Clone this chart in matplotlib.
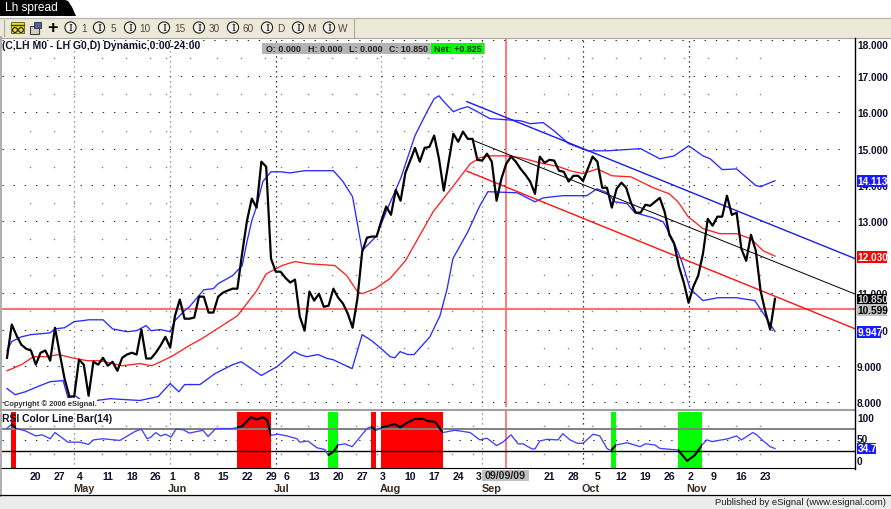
import matplotlib
matplotlib.use('Agg')
import matplotlib.pyplot as plt
from matplotlib.patches import Rectangle, Circle, Polygon
from matplotlib.transforms import blended_transform_factory

plt.rcParams['font.family'] = ['Liberation Sans', 'DejaVu Sans']

W, H = 891, 510

# daily close, one value per bar
close = [9.22, 10.14, 9.83, 9.58, 9.47, 9.42, 9.03, 9.36, 9.42, 9.14, 10.05, 9.33, 8.64, 8.15, 8.15, 9.17,
         9.03, 8.17, 9.11, 9.03, 9.22, 9.00, 9.11, 8.86, 9.22, 9.31, 9.36, 9.31, 10.00, 9.20, 9.20, 9.36,
         9.56, 9.80, 9.50, 10.38, 10.83, 10.30, 10.30, 10.33, 10.91, 10.91, 10.47, 10.47, 10.91, 11.02,
         11.08, 11.13, 11.13, 12.12, 13.01, 13.62, 13.37, 14.64, 14.50, 11.96, 11.60, 11.60, 11.43, 11.30,
         11.38, 10.36, 9.97, 11.05, 10.80, 10.99, 10.63, 10.66, 11.13, 10.88, 10.72, 10.44, 10.05, 10.85,
         12.15, 12.54, 12.57, 12.57, 13.01, 13.40, 13.17, 13.86, 13.56, 14.33, 14.67, 15.02, 14.64, 15.02,
         15.05, 15.36, 14.72, 13.84, 14.63, 15.41, 15.19, 15.47, 15.27, 15.27, 14.69, 14.67, 14.86, 14.64,
         13.56, 14.17, 14.58, 14.78, 14.64, 14.44, 14.28, 14.09, 13.75, 14.78, 14.61, 14.69, 14.67, 14.39,
         14.36, 14.09, 14.25, 14.25, 14.11, 14.44, 14.78, 14.64, 13.92, 13.92, 13.37, 13.89, 14.06, 13.92,
         13.50, 13.23, 13.23, 13.45, 13.42, 13.53, 13.64, 13.26, 12.62, 12.37, 11.74, 11.30, 10.74, 11.19,
         11.49, 12.10, 13.06, 12.87, 13.12, 13.12, 13.70, 13.17, 13.23, 12.23, 11.90, 12.62, 12.18, 11.07,
         10.49, 10.00, 10.85]

upper_bars = [0, 1, 3, 5, 7.5, 9, 10, 12, 14, 16, 17, 20, 22, 25, 27, 29, 30, 32, 34, 35, 37, 38, 40, 41, 43,
              44, 47, 49, 50, 51, 52, 53.3, 55, 57, 59, 62, 68, 70, 72, 74, 77, 79, 82, 85, 87.5, 89, 90, 91,
              93, 94.4, 96, 98, 100.6, 107, 109, 111.7, 114, 117, 121, 125, 132, 136, 139, 142, 145, 146.5,
              149, 152, 156, 157, 160]
upper = [9.42, 9.67, 9.80, 9.86, 9.89, 9.91, 10.02, 10.05, 10.22, 10.25, 10.27, 10.27, 10.02, 9.94, 9.97,
         10.11, 9.97, 10.0, 9.94, 10.25, 10.52, 10.63, 10.94, 11.1, 11.13, 11.27, 11.49, 11.77, 12.43, 13.01,
         13.4, 14.09, 14.36, 14.36, 14.33, 14.39, 14.39, 14.09, 13.67, 12.18, 12.59, 13.26, 14.17, 15.36,
         16.02, 16.38, 16.46, 16.3, 16.02, 16.1, 16.16, 16.02, 15.83, 15.77, 15.69, 15.72, 15.49, 15.14,
         14.94, 14.94, 15.0, 14.72, 14.8, 15.08, 14.8, 14.72, 14.42, 14.44, 13.98, 13.95, 14.113]

mid_bars = [0, 3, 5.5, 8.3, 10.8, 13.5, 16.7, 19.4, 24, 27.7, 30.2, 32, 34.6, 38, 40.6, 48, 52, 54, 57.3, 60,
            62.7, 68.3, 70.8, 73, 74, 76.7, 79.8, 83, 88.8, 93, 96.5, 98.5, 100.6, 104.2, 107, 111, 115,
            117.3, 120, 123, 126, 130, 134.6, 138, 139.8, 141.9, 145, 148.5, 152, 155, 157.5, 160]
mid = [8.86, 9.03, 9.25, 9.25, 9.31, 9.22, 9.14, 9.14, 9.0, 9.06, 9.0, 9.11, 9.28, 9.56, 9.75, 10.38, 11.07,
       11.54, 11.77, 11.88, 11.82, 11.77, 11.49, 11.05, 10.99, 11.13, 11.41, 11.9, 13.26, 13.97, 14.58, 14.75,
       14.8, 14.8, 14.75, 14.61, 14.5, 14.39, 14.31, 14.44, 14.25, 14.22, 13.92, 13.75, 13.53, 13.12, 12.79,
       12.65, 12.65, 12.51, 12.18, 12.03]

lower_bars = [0, 1.7, 3.8, 6.9, 9, 11.7, 12.7, 14.2, 15.6, 16.9, 21.5, 27.7, 31.5, 34, 35.8, 37, 40.2, 43.3,
              47, 48.8, 53, 56.3, 59.9, 61, 62.5, 64.8, 66.7, 67.9, 71.9, 74, 76, 78, 79.8, 80.8, 81.9, 83.5,
              84.8, 88.1, 90.2, 91.7, 92.9, 96, 98.5, 100.2, 106.3, 110, 111.7, 115.8, 120.8, 122.9, 125,
              126.7, 129.2, 130.8, 134.6, 136.7, 138.8, 140.6, 142.3, 145, 148.1, 152, 155.8, 157.9, 160]
lower = [8.37, 8.2, 8.28, 8.45, 8.56, 8.59, 8.12, 8.17, 8.04, 8.01, 8.09, 8.04, 8.15, 8.51, 8.28, 8.48, 8.48,
         8.78, 9.03, 9.11, 8.73, 8.98, 9.39, 9.31, 9.25, 9.31, 9.2, 9.17, 8.92, 9.86, 9.69, 9.47, 9.25, 9.22,
         9.39, 9.31, 9.31, 9.8, 10.38, 11.13, 11.96, 12.7, 13.42, 13.81, 13.78, 13.53, 13.64, 13.7, 13.7, 13.89,
         13.78, 13.53, 13.48, 13.23, 13.09, 12.98, 12.46, 11.88, 11.13, 10.8, 10.88, 10.88, 10.8, 10.38, 9.947]

rsi_bars = [0, 1, 2, 3.8, 6, 7.3, 9, 10, 12.7, 15.2, 17, 18, 20, 23.5, 26.7, 28, 29.2, 30, 31, 32, 33, 34.2,
            35.2, 36.7, 38, 40.8, 41.9, 43.5, 47, 49, 50.8, 52, 53.3, 54.2, 55, 56.5, 58.3, 60.4, 61, 62.7,
            64.6, 66.2, 66.9, 68, 69, 70.4, 71.9, 75, 75.8, 76.9, 78, 80.8, 81.9, 83.3, 85, 86.7, 87.7, 89.2,
            90.8, 93.3, 96.5, 98.5, 100, 102, 103.3, 105, 106.5, 107.5, 109.4, 110, 111, 112.5, 114.8, 115.8,
            117.3, 118.8, 120, 122.1, 123.5, 125, 125.8, 126.9, 129.2, 131.9, 133, 135, 136, 139.8, 141.7,
            143.3, 144.8, 145.8, 146.9, 150.2, 152, 153, 155.4, 156.2, 157.3, 159, 160]
rsi = [70.5, 77.5, 70, 66, 57, 59, 52, 63, 46, 46, 42, 50, 52, 49, 65, 69, 52, 55, 63, 57, 60, 55, 69, 68, 62,
       67, 56, 70, 70, 74, 90, 86, 90, 85, 58, 60, 57, 52, 46, 48, 36, 33, 23, 29, 41, 43, 38, 70, 73, 67, 72,
       78, 72, 80, 87, 87, 83, 82, 63, 67, 63, 50, 53, 40, 46, 59, 43, 43, 34, 34, 48, 51, 50, 61, 50, 44, 44,
       60, 57, 35, 31, 41, 45, 38, 43, 41, 35, 32, 13, 23, 41, 50, 47, 52, 57, 50, 63, 59, 50, 38, 34.7]

red_zones = [(0.85, 1.9), (47.9, 55), (75.8, 76.9), (77.9, 90.8)]
green_zones = [(66.9, 69), (125.8, 126.9), (139.8, 144.8)]

# regression channel
chan_bars = [95.8, 176.7]
chan_upper = [16.3, 11.96]
chan_mid = [15.3, 10.98]
chan_lower = [14.38, 10.02]

month_bars = [14, 34, 56, 78, 99, 120, 142]
month_names = ['May', 'Jun', 'Jul', 'Aug', 'Sep', 'Oct', 'Nov']
month_label_bars = [16, 35.6, 57.3, 79.8, 101, 121.5, 143.7]
month_cols = ['#777777', '#777777', 'black', '#777777', '#777777', 'black', 'black']

week_bars = [6, 11, 15.2, 21, 26, 31, 34.4, 39.4, 45, 50, 55, 58.3, 64, 69, 74, 78.3, 84, 89, 94, 98.3,
             113, 118, 123, 128, 133, 138, 142.3, 147.3, 153, 158]
week_labels = ['20', '27', '4', '11', '18', '26', '1', '8', '15', '22', '29', '6', '13', '20', '27', '3', '10',
               '17', '24', '3', '21', '28', '5', '12', '19', '26', '2', '9', '16', '23']

price_ticks = [8, 9, 10, 11, 12, 13, 14, 15, 16, 17, 18]
cross_bar = 103.9
cross_price = 10.575

BLUE = '#2a2aff'
RED = '#ff2222'
CROSS = '#ff7070'
TXT = '#101028'
SCALE_FS = 7.3


def axes_rect(left, top, right, bottom):
    return [left / W, 1 - bottom / H, (right - left) / W, (bottom - top) / H]


fig = plt.figure(figsize=(W / 100, H / 100), dpi=100, facecolor='white')

xlim = (-1.04, 176.67)
ax = fig.add_axes(axes_rect(2, 40, 855, 408))
ax.set_xlim(xlim)
ax.set_ylim(7.86, 18.03)
rs = fig.add_axes(axes_rect(2, 412, 855, 469.5))
rs.set_xlim(xlim)
rs.set_ylim(-0.5, 101)

for a in (ax, rs):
    for s in ('top', 'left', 'bottom', 'right'):
        a.spines[s].set_visible(False)
    a.set_xticks([])
    a.patch.set_alpha(0)

# grid
for p in price_ticks:
    ax.plot([-1, 175], [p, p], color='#222222', lw=0.75, dashes=(1.3, 9.4), zorder=1)
for p in price_ticks[:-1]:
    ax.plot([b - 1.2 for b in week_bars], [p + 0.5] * len(week_bars), ls='', marker='s', ms=1, mew=0,
            color='#888888', zorder=1)
for b, c in zip(month_bars, month_cols):
    ax.axvline(b, color=c, lw=0.9, dashes=(1, 3), zorder=1)
    rs.axvline(b, color=c, lw=0.9, dashes=(1, 3), zorder=1)
rs.plot([-1, 175], [50, 50], color='#222222', lw=0.75, dashes=(1.3, 9.4), zorder=1)
for lev in (75, 25):
    rs.plot([b - 1.2 for b in week_bars], [lev] * len(week_bars), ls='', marker='s', ms=1, mew=0,
            color='#888888', zorder=1)

# crosshair
ax.axhline(cross_price, color=CROSS, lw=1.5, zorder=2)
ax.axvline(cross_bar, color=CROSS, lw=1.3, zorder=2)
rs.axvline(cross_bar, color=CROSS, lw=1.3, zorder=2)

# bands and channel
ax.plot(upper_bars, upper, color=BLUE, lw=0.95, zorder=3)
ax.plot(lower_bars, lower, color=BLUE, lw=0.95, zorder=3)
ax.plot(mid_bars, mid, color=RED, lw=0.95, zorder=3)
ax.plot(chan_bars, chan_upper, color='#1a1aee', lw=1.0, zorder=3)
ax.plot(chan_bars, chan_mid, color='black', lw=0.7, zorder=3)
ax.plot(chan_bars, chan_lower, color='#ff1010', lw=1.0, zorder=3)
ax.plot(range(len(close)), close, color='black', lw=1.6, zorder=4)

# rsi panel
spans = []
for z in red_zones:
    spans.append(rs.axvspan(z[0], z[1], ymin=0.015, ymax=0.985, color='#ff0000', lw=0, zorder=2))
for z in green_zones:
    spans.append(rs.axvspan(z[0], z[1], ymin=0.015, ymax=0.985, color='#00ff00', lw=0, zorder=2))
rs.axhline(70, color='#808080', lw=1.4, zorder=3)
rs.axhline(30, color='black', lw=1.0, zorder=3)
rs.plot(rsi_bars, rsi, color='#4040ff', lw=0.95, zorder=4)
for sp in spans:
    ln, = rs.plot(rsi_bars, rsi, color='black', lw=1.5, zorder=5)
    ln.set_clip_path(sp)

# price scale
ax.yaxis.tick_right()
ax.set_yticks(price_ticks[:-1])
ax.set_yticklabels(['%.3f' % p for p in price_ticks[:-1]], fontsize=SCALE_FS, fontweight='bold', color=TXT)
ax.tick_params(axis='y', length=0, pad=1.5)
rs.set_yticks([])

# everything around the plot, in screen pixels
ov = fig.add_axes([0, 0, 1, 1], zorder=10)
ov.set_xlim(0, W)
ov.set_ylim(H, 0)
ov.axis('off')
ov.patch.set_alpha(0)

# title tab and toolbar
ov.add_patch(Polygon([(0, 0), (62, 0), (68, 2), (72, 8), (76, 17), (0, 17)], color='black', lw=0))
ov.text(5, 8.5, 'Lh spread', color='white', fontsize=8.6, va='center', ha='left')
ov.add_patch(Rectangle((0, 19), W, 20, color='#ece9d8', lw=0))
ov.plot([0, W], [19, 19], color='#b8b8b0', lw=1)
ov.plot([0, W], [39, 39], color='#a8a8a0', lw=0.8)
ov.plot([4, 4], [21, 37], color='#aaaaa0', lw=0.8)
ov.plot([354, 354], [20, 38], color='#aaaaa0', lw=0.8)
ov.add_patch(Rectangle((11, 23), 13, 11, color='#e8dc30', ec='#404000', lw=0.5))
ov.add_patch(Circle((15, 31), 2.4, fc='#e8dc30', ec='black', lw=0.7))
ov.add_patch(Circle((21, 31), 2.4, fc='#e8dc30', ec='black', lw=0.7))
ov.plot([11, 24], [26, 26], color='#404000', lw=1)
ov.add_patch(Rectangle((30, 27), 9, 8, fc='#d0d0c8', ec='#404040', lw=0.8))
ov.add_patch(Rectangle((34, 23), 7, 6, fc='#5060a0', ec='#303030', lw=0.6))
ov.text(52, 29, '+', color='black', fontsize=13, fontweight='bold', ha='center', va='center')
for cx, lab, lx in zip([70.5, 99, 130, 164, 199, 233, 267, 298, 329],
                       ['1', '5', '10', '15', '30', '60', 'D', 'M', 'W'],
                       [84, 113, 145, 180, 214, 248, 281, 311, 343]):
    ov.add_patch(Circle((cx, 28.5), 5.6, fc='#f4f2e8', ec='#202020', lw=0.8))
    ov.text(cx, 28.8, 'I', fontsize=7, ha='center', va='center', color='black', family='DejaVu Serif')
    ov.text(lx, 29, lab, fontsize=7.2, ha='center', va='center', color='#504840')

ov.text(2, 46, '(C,LH M0 - LH G0,D) Dynamic,0:00-24:00', fontsize=7.45, fontweight='bold', color=TXT,
        va='center', ha='left')

# ohlc box
ov.add_patch(Rectangle((262, 44), 223, 11, color='#b4b4b4', lw=0))
ov.add_patch(Rectangle((431, 44), 53, 10.5, color='#00ff00', lw=0))
for tx, s in zip([266, 308, 349, 389], ['O: 0.000', 'H: 0.000', 'L: 0.000', 'C: 10.850']):
    ov.text(tx, 49.5, s, fontsize=6.4, fontweight='bold', color='#202020', va='center', ha='left')
ov.text(434, 49.5, 'Net: +0.825', fontsize=6.4, fontweight='bold', color='#103010', va='center', ha='left')

ov.text(857, 46, '18.000', fontsize=SCALE_FS, fontweight='bold', color=TXT, va='center', ha='left')
ov.text(4, 404, 'Copyright \u00a9 2006 eSignal.', fontsize=5.4, fontweight='bold', color='#303030',
        va='center', ha='left', bbox=dict(fc='white', ec='none', pad=0.3))
ov.text(2, 419, 'RSI Color Line Bar(14)', fontsize=7.5, fontweight='bold', color=TXT, va='center', ha='left')

# panel divider, scale line and date strip
ov.plot([0, 855], [410.5, 410.5], color='#a0a0a0', lw=1.5)
ov.plot([0, 855], [469.3, 469.3], color='black', lw=0.8)
ov.plot([855.3, 855.3], [39, 469.5], color='black', lw=1.0)
ov.plot([0.5, 0.5], [38, 497], color='#a0a0a0', lw=1.2)

for ty, s in [(419, '100'), (440.5, '50'), (462, '0')]:
    ov.text(857, ty, s, fontsize=SCALE_FS, fontweight='bold', color=TXT, va='center', ha='left')

# current value flags
for y0, h, col, s, tc, x1 in [(176, 12, '#1a1aff', '14.113', 'white', 887),
                              (252, 12, '#ff0000', '12.030', 'white', 887),
                              (295, 10.5, 'black', '10.850', '#d0d0d0', 887),
                              (305, 11.5, '#c0c0c0', '10.599', 'black', 887),
                              (327, 12, '#1a1aff', '9.947', 'white', 881),
                              (444, 10.5, '#1a1aff', '34.7', 'white', 876)]:
    ov.add_patch(Rectangle((856.5, y0), x1 - 856.5, h, color=col, lw=0))
    ov.text(857.5, y0 + h / 2, s, fontsize=SCALE_FS, fontweight='bold', color=tc, va='center', ha='left')

# date labels, x through the bar scale of the chart
trans = blended_transform_factory(ax.transData, ov.transData)
for b, s in zip(week_bars, week_labels):
    ov.text(b, 477, s, transform=trans, fontsize=7.6, fontweight='bold', color=TXT, ha='center', va='center')
for b, s in zip(month_label_bars, month_names):
    ov.text(b, 489, s, transform=trans, fontsize=7.8, fontweight='bold', color='#3a2a20', ha='center', va='center')
ov.add_patch(Rectangle((482, 471), 47, 11, color='#c0c0c0', lw=0))
ov.text(505.5, 476.5, '09/09/09', fontsize=7.6, fontweight='bold', color='#202020', ha='center', va='center')

# status bar
ov.add_patch(Rectangle((0, 497), W, 13, color='#ececec', lw=0))
ov.plot([0, W], [496.3, 496.3], color='black', lw=0.9)
ov.text(886, 503, 'Published by eSignal (www.esignal.com)', fontsize=6.8, color='#202020', ha='right', va='center')

fig.savefig('out.png', dpi=100)
